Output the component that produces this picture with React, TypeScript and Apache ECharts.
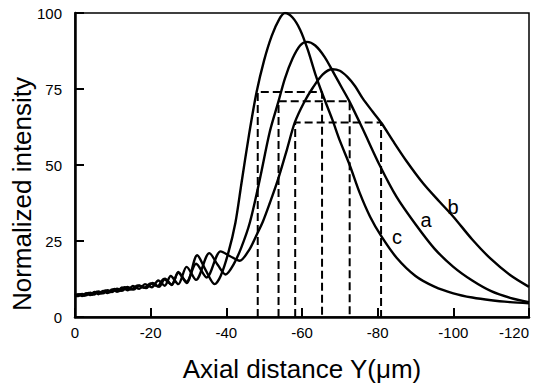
import React, { useEffect, useRef } from 'react';
import * as echarts from 'echarts';

// Axial distance (x) vs normalized intensity (y) for curves c, a, b
const curveC: [number, number][] = [
  [0, 7.0], [-0.8, 6.9], [-1.9, 7.6], [-2.9, 7.1], [-4, 8.0], [-5.1, 7.4], [-6.2, 8.4],
  [-7.4, 7.8], [-8.6, 8.8], [-9.8, 8.2], [-11.1, 9.3], [-12.4, 8.6], [-13.9, 9.9],
  [-15.5, 9.0], [-17, 10.4], [-18.8, 9.5], [-20.5, 11.2], [-22.2, 9.9], [-23.8, 12.6],
  [-25.6, 10.5], [-27.3, 14.8], [-29.5, 11.2], [-32.3, 20.3], [-34.5, 15.5], [-36.9, 10.8],
  [-38.5, 13.5], [-40.5, 21], [-42.4, 31], [-44, 44], [-46, 60], [-48, 74], [-50, 84.5],
  [-52, 92.5], [-54, 98], [-55.5, 100], [-57.5, 98.5], [-59.5, 94.5], [-61.5, 88],
  [-63.5, 80], [-65.2, 74], [-68, 65], [-70, 58], [-72.6, 50], [-75.2, 41], [-78, 33],
  [-81, 26.5], [-85, 19.5], [-90, 13.5], [-95, 10], [-100, 7.8], [-105, 6.4], [-110, 5.5],
  [-115, 4.9], [-120, 4.5],
];
const curveA: [number, number][] = [
  [0, 7.0], [-0.8, 7.4], [-1.9, 6.9], [-2.9, 7.8], [-4, 7.2], [-5.1, 8.2], [-6.2, 7.5],
  [-7.4, 8.6], [-8.6, 7.9], [-9.8, 9.1], [-11.1, 8.3], [-12.4, 9.7], [-13.9, 8.8],
  [-15.3, 10.2], [-17, 9.3], [-18.5, 10.8], [-20.3, 9.8], [-22, 12], [-23.7, 10.3],
  [-25.3, 13.5], [-27.3, 10.8], [-29.5, 16.5], [-32, 12.2], [-35.5, 21], [-37.8, 17],
  [-39.8, 14], [-42, 17.5], [-44, 23], [-46.2, 31], [-48.8, 45], [-51.5, 61], [-53.8, 71],
  [-55.5, 78.5], [-57.5, 85], [-59.5, 89.3], [-61.3, 90.5], [-63.5, 89.3], [-66, 85.5],
  [-68.5, 80], [-70.5, 75.5], [-72.5, 71], [-76, 62], [-80.5, 50], [-85, 39.5],
  [-90, 30.5], [-95, 22.5], [-100, 16.5], [-105, 12], [-110, 8.5], [-115, 6.3], [-120, 4.9],
];
const curveB: [number, number][] = [
  [0, 7.1], [-1.4, 7.5], [-2.4, 7.0], [-3.5, 7.9], [-4.6, 7.3], [-5.7, 8.3], [-6.8, 7.7],
  [-8, 8.7], [-9.2, 8.1], [-10.4, 9.2], [-11.7, 8.5], [-13.1, 9.8], [-14.8, 9.0],
  [-16.6, 10.4], [-18.3, 9.6], [-20, 11], [-21.8, 10.1], [-23.5, 12.5], [-25.5, 10.7],
  [-27.3, 14.5], [-29.5, 11.6], [-32, 17.5], [-34.8, 13], [-38.5, 21.6], [-41, 20],
  [-43.5, 18.5], [-46, 22], [-48, 27], [-49.7, 31.5], [-51.5, 37.5], [-53.6, 45], [-56, 55],
  [-58.1, 64], [-60.5, 70.5], [-62.9, 75.5], [-65.5, 79.8], [-68, 81.5], [-70, 81],
  [-72, 79], [-74, 76], [-76, 72], [-78.7, 67.5], [-81, 63.8], [-84, 58], [-87.5, 51.5],
  [-92, 44], [-96.3, 38], [-100, 33], [-105, 25.5], [-110, 19], [-115, 13.8], [-120, 9.9],
];

// Width markers (dashed boxes): level and left/right crossing for c, a, b
const levels = [74, 71, 64];
const leftEdges = [-48.3, -53.8, -58.2];
const rightEdges = [-65.3, -72.6, -80.9];

const curveLabels = ['c', 'a', 'b'];
const xTitle = 'Axial distance Y(\u03bcm)';
const yTitle = 'Normalized intensity';

const FONT = '"Liberation Sans", Arial, Helvetica, sans-serif';

export default function App() {
  const ref = useRef<HTMLDivElement>(null);
  useEffect(() => {
    if (!ref.current) return;
    const chart = echarts.init(ref.current, undefined, { renderer: 'svg' });
    const curveSeries = [curveC, curveA, curveB].map((d, i) => ({
      type: 'line',
      name: curveLabels[i],
      data: d,
      symbol: 'none',
      smooth: 0.3,
      lineStyle: { color: '#000', width: 2.4 },
      z: 3,
    }));
    const dashSeries = levels.map((lv, i) => ({
      type: 'line',
      data: [
        [leftEdges[i], 0],
        [leftEdges[i], lv],
        [rightEdges[i], lv],
        [rightEdges[i], 0],
      ],
      symbol: 'none',
      lineStyle: { color: '#000', width: 2, type: [8, 4] },
      z: 2,
    }));
    const labelPos = [
      [397, 237],
      [426, 220],
      [453, 207],
    ];
    chart.setOption({
      animation: false,
      backgroundColor: '#fff',
      grid: {
        left: 75,
        right: 6,
        top: 13,
        bottom: 70,
        outerBoundsMode: 'none',
        containLabel: false,
        show: true,
        borderColor: '#000',
        borderWidth: 1.5,
        backgroundColor: 'transparent',
      },
      xAxis: {
        type: 'value',
        min: -120,
        max: 0,
        interval: 20,
        inverse: true,
        splitLine: { show: false },
        axisLine: { lineStyle: { color: '#000', width: 2.5 } },
        axisTick: { inside: true, length: 9, lineStyle: { color: '#000', width: 2 } },
        axisLabel: {
          color: '#000',
          fontSize: 15,
          margin: 8,
          fontFamily: FONT,
          alignMinLabel: 'right',
        },
      },
      yAxis: {
        type: 'value',
        min: 0,
        max: 100,
        interval: 25,
        splitLine: { show: false },
        axisLine: { lineStyle: { color: '#000', width: 2.5 } },
        axisTick: { inside: true, length: 9, lineStyle: { color: '#000', width: 2 } },
        axisLabel: { color: '#000', fontSize: 15, margin: 13, fontFamily: FONT },
      },
      graphic: [
        {
          type: 'text',
          x: 302,
          y: 369,
          style: {
            text: xTitle,
            fontSize: 26,
            fontFamily: FONT,
            fill: '#000',
            align: 'center',
            verticalAlign: 'middle',
          },
        },
        {
          type: 'text',
          x: 22,
          y: 194,
          rotation: Math.PI / 2,
          style: {
            text: yTitle,
            fontSize: 26,
            fontFamily: FONT,
            fill: '#000',
            align: 'center',
            verticalAlign: 'middle',
          },
        },
        ...curveLabels.map((t, i) => ({
          type: 'text',
          x: labelPos[i][0],
          y: labelPos[i][1],
          style: {
            text: t,
            fontSize: 20,
            fontFamily: FONT,
            fill: '#000',
            align: 'center',
            verticalAlign: 'middle',
          },
        })),
      ],
      series: [...dashSeries, ...curveSeries],
    });
    return () => chart.dispose();
  }, []);
  return (
    <div
      ref={ref}
      style={{ position: 'fixed', left: 0, top: 0, width: 535, height: 387 }}
    />
  );
}
